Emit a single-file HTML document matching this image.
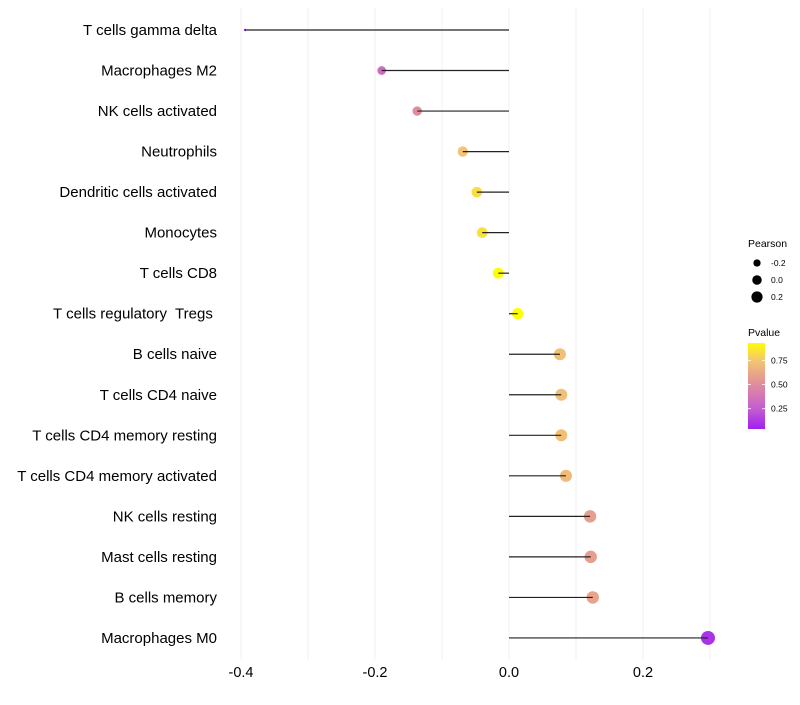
<!DOCTYPE html>
<html><head><meta charset="utf-8"><style>
body{margin:0;background:#fff;font-family:"Liberation Sans",sans-serif}
text{white-space:pre}
</style></head><body>
<svg id="chart" width="800" height="700" xmlns="http://www.w3.org/2000/svg"></svg>
<script>
const categories=["T cells gamma delta","Macrophages M2","NK cells activated","Neutrophils","Dendritic cells activated","Monocytes","T cells CD8","T cells regulatory  Tregs ","B cells naive","T cells CD4 naive","T cells CD4 memory resting","T cells CD4 memory activated","NK cells resting","Mast cells resting","B cells memory","Macrophages M0"];
const pearson=[-0.394,-0.19,-0.137,-0.069,-0.048,-0.040,-0.016,0.013,0.076,0.078,0.078,0.085,0.121,0.122,0.125,0.297];
const pvalue=[0.04,0.33,0.5,0.74,0.83,0.84,0.93,0.95,0.72,0.72,0.72,0.7,0.58,0.58,0.6,0.1];
const xTicks=[-0.4,-0.2,0.0,0.2];
const xTickLabels=["-0.4","-0.2","0.0","0.2"];
const sizeLegend=[-0.2,0.0,0.2];
const colorTicks=[0.25,0.5,0.75];

const NS="http://www.w3.org/2000/svg";
const svg=document.getElementById('chart');
const pMin=Math.min(...pearson),pMax=Math.max(...pearson);
function X(v){return 509+670*v;}
function Y(i){return 30+i*40.53;}
function R(v){const t=Math.max(0,Math.min(1,(v-pMin)/(pMax-pMin)));return 1.2+5.8*Math.sqrt(t);}
const stops=[[0.04,[160,32,240]],[0.25,[196,94,208]],[0.5,[224,140,158]],[0.75,[244,198,112]],[0.94,[255,255,0]]];
function col(p){if(p<=stops[0][0])return 'rgb('+stops[0][1]+')';
 for(let k=1;k<stops.length;k++){if(p<=stops[k][0]){const a=stops[k-1],b=stops[k];const t=(p-a[0])/(b[0]-a[0]);return 'rgb('+a[1].map((c,j)=>Math.round(c+(b[1][j]-c)*t)).join(',')+')';}}
 return 'rgb(255,255,0)';}
function el(t,a){const e=document.createElementNS(NS,t);for(const k in a)e.setAttribute(k,a[k]);svg.appendChild(e);return e;}
function CY(p){return 429-(p-0.04)/(0.93-0.04)*86;}

for(let v=-0.4;v<=0.301;v+=0.1){
 const g=el('line',{x1:X(v),x2:X(v),y1:8,y2:660,stroke:'#f0f0f0','stroke-width':1});
 
 
}
xTicks.forEach((v,i)=>{
 const t=el('text',{x:X(v),y:677,'text-anchor':'middle','font-size':14.5,fill:'#000'});
 t.textContent=xTickLabels[i];
 
 
});
categories.forEach((c,i)=>{
 const t=el('text',{x:217,y:Y(i)+5,'text-anchor':'end','font-size':15,fill:'#000'});
 t.textContent=c;
 
 
 const d=el('circle',{cx:X(pearson[i]),cy:Y(i),r:R(pearson[i]),fill:col(pvalue[i])});
 
 
 const l=el('line',{x1:X(0),x2:X(pearson[i]),y1:Y(i),y2:Y(i),stroke:'#222','stroke-width':1.2});
 
 
});
let t=el('text',{x:748,y:247,'font-size':10.5,fill:'#000'});t.textContent='Pearson';


sizeLegend.forEach((v,i)=>{
 const y=263+i*17;
 const c=el('circle',{cx:757,cy:y,r:R(v)*0.85,fill:'#000'});
 
 
 const tt=el('text',{x:771,y:y+3,'font-size':8.5,fill:'#000'});tt.textContent=v.toFixed(1);
 
 
});
t=el('text',{x:748,y:336,'font-size':10.5,fill:'#000'});t.textContent='Pvalue';


const defs=el('defs',{});
const lg=document.createElementNS(NS,'linearGradient');lg.setAttribute('id','pg');lg.setAttribute('x1','0');lg.setAttribute('y1','1');lg.setAttribute('x2','0');lg.setAttribute('y2','0');
defs.appendChild(lg);
for(let k=0;k<=10;k++){const p=0.04+k*0.089;const s=document.createElementNS(NS,'stop');s.setAttribute('offset',k/10);s.setAttribute('stop-color',col(p));lg.appendChild(s);}
const bar=el('rect',{x:748,y:343,width:17,height:86,fill:'url(#pg)'});


colorTicks.forEach(v=>{
 const y=CY(v);
 el('line',{x1:748,x2:751,y1:y,y2:y,stroke:'#fff','stroke-width':0.8});
 el('line',{x1:762,x2:765,y1:y,y2:y,stroke:'#fff','stroke-width':0.8});
 const tt=el('text',{x:771,y:y+3,'font-size':8.5,fill:'#000'});tt.textContent=v.toFixed(2);
 
 
});
</script>
</body></html>
